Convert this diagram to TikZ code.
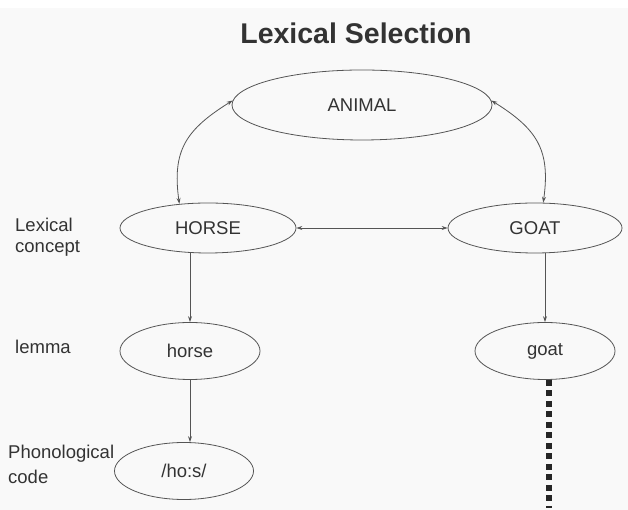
\documentclass[tikz,border=0pt]{standalone}
\usepackage{fontspec}
\setmainfont{Liberation Sans}
\usepackage{xcolor}
\usepackage{tikz}
\usetikzlibrary{
  positioning,
  arrows.meta,
  shapes.geometric,
  calc
}
\definecolor{inkgray}{HTML}{333333}
\definecolor{linegray}{HTML}{555555}
\definecolor{bggray}{HTML}{F9F9F9}

\begin{document}
\begin{tikzpicture}[
    x=1pt, y=1pt,
    >={Stealth[length=6pt,width=4pt]},
    concept/.style={ellipse, draw=linegray, line width=0.8pt, inner sep=0pt,
        text=inkgray, font=\fontsize{18.5}{22}\selectfont},
    levellabel/.style={anchor=west, align=left, inner sep=0pt,
        text=inkgray, font=\fontsize{18.5}{21}\selectfont},
    link/.style={draw=linegray, line width=0.8pt}
]
    % background
    \fill[white] (0,0) rectangle (628,510);
    \fill[bggray] (0,0) rectangle (628,502);
    \useasboundingbox (0,0) rectangle (628,510);

    % title
    \node[text=inkgray, font=\bfseries\fontsize{28.5}{32}\selectfont] (title) at (356,477) {Lexical Selection};

    % concept nodes
    \node[concept, minimum width=260, minimum height=70] (animal) at (362,405) {ANIMAL};
    \node[concept, minimum width=176, minimum height=50] (horseC) at (208,282) {HORSE};
    \node[concept, minimum width=174, minimum height=50] (goatC) at (535,282) {GOAT};
    \node[concept, minimum width=140, minimum height=57] (horseL) at (190,159) {horse};
    \node[concept, minimum width=140, minimum height=57] (goatL) at (545,159) {goat};
    \node[concept, minimum width=139, minimum height=57] (horsePh) at (184,39) {/ho:s/};

    % level labels
    \node[levellabel] (lblConcept) at (15,273) {Lexical\\concept};
    \node[levellabel] (lblLemma) at (15,163) {lemma};
    \node[levellabel, font=\fontsize{18.5}{25}\selectfont] (lblPhon) at (8,46) {Phonological\\code};

    % links
    \draw[link, <->] (animal.178) to[out=212, in=98, looseness=1.2] (horseC.140);
    \draw[link, <->] (animal.2) to[out=-32, in=82, looseness=1.2] (goatC.72);
    \draw[link, <->] (horseC.east) -- (goatC.west);
    \draw[link, ->] (horseC.south -| horseL.north) -- (horseL.north);
    \draw[link, ->] (horseL.south) -- (horseL.south |- horsePh.north);
    \draw[link, ->] (goatC.south -| goatL.north) -- (goatL.north);

    % continuation below goat
    \coordinate (goatEnd) at (549,2);
    \draw[black!85, line width=6pt, dash pattern=on 6pt off 4.5pt] (goatL.south -| goatEnd) -- (goatEnd);
\end{tikzpicture}
\end{document}
